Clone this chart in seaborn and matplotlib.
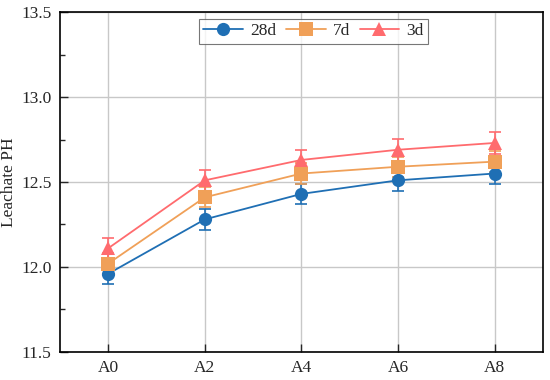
import matplotlib
matplotlib.use("Agg")
import matplotlib.pyplot as plt
import seaborn as sns
import pandas as pd
import numpy as np
from matplotlib.ticker import MultipleLocator

categories = ["A0", "A2", "A4", "A6", "A8"]
ph_28d = [11.96, 12.28, 12.43, 12.51, 12.55]
ph_7d = [12.02, 12.41, 12.55, 12.59, 12.62]
ph_3d = [12.11, 12.51, 12.63, 12.69, 12.73]
err_28d = [0.06, 0.06, 0.06, 0.06, 0.06]
err_7d = [0.06, 0.06, 0.06, 0.06, 0.06]
err_3d = [0.06, 0.06, 0.06, 0.065, 0.065]
series_names = ["28d", "7d", "3d"]

sns.set_style("ticks")
plt.rcParams['font.family'] = ['Liberation Serif', 'DejaVu Serif']
plt.rcParams['mathtext.fontset'] = 'stix'

colors = {"28d": "#1f6fb4", "7d": "#f0a058", "3d": "#ff6b6e"}
markers = {"28d": "o", "7d": "s", "3d": "^"}

rows = []
for name, vals in zip(series_names, [ph_28d, ph_7d, ph_3d]):
    for i, (c, v) in enumerate(zip(categories, vals)):
        rows.append({"x": i, "cat": c, "PH": v, "series": name})
df = pd.DataFrame(rows)

fig, ax = plt.subplots(figsize=(5.5, 3.8), dpi=100)
fig.subplots_adjust(left=0.109, right=0.987, top=0.968, bottom=0.074)

xs = np.arange(len(categories))
for name, vals, errs in zip(series_names, [ph_28d, ph_7d, ph_3d], [err_28d, err_7d, err_3d]):
    ax.errorbar(xs, vals, yerr=errs, fmt='none', ecolor=colors[name], elinewidth=1.2,
                capsize=4, capthick=1.2, zorder=3)

sns.lineplot(data=df, x="x", y="PH", hue="series", style="series",
             hue_order=series_names, style_order=series_names,
             palette=colors, markers=markers, dashes=False,
             markersize=9.5, markeredgewidth=0, linewidth=1.3, ax=ax, zorder=4)

ax.set_xlim(-0.5, 4.5)
ax.set_ylim(11.5, 13.5)
ax.set_xticks(xs)
ax.set_xticklabels(categories)
ax.yaxis.set_major_locator(MultipleLocator(0.5))
ax.yaxis.set_minor_locator(MultipleLocator(0.25))
ax.yaxis.set_major_formatter(matplotlib.ticker.FormatStrFormatter('%.1f'))
ax.grid(True, which='major', color='#c8c8c8', linewidth=1.0)
ax.set_axisbelow(True)
ax.tick_params(axis='both', which='major', direction='in', length=6, width=1, labelsize=12.5, pad=6)
ax.tick_params(axis='y', which='minor', direction='in', length=3.5, width=1)
ax.set_xlabel("")
ax.set_ylabel("Leachate PH", fontsize=12.5, labelpad=3)
for s in ax.spines.values():
    s.set_linewidth(1.2)
    s.set_color('black')

handles, labels = ax.get_legend_handles_labels()
leg = ax.legend(handles, labels, loc='upper center', bbox_to_anchor=(0.525, 0.98), ncol=3,
                fontsize=12.5, frameon=True, fancybox=False, edgecolor='#555555',
                handlelength=2.3, handletextpad=0.4, columnspacing=0.55,
                borderpad=0.25, borderaxespad=0)
leg.get_frame().set_linewidth(0.8)

fig.savefig("out.png", dpi=100)
